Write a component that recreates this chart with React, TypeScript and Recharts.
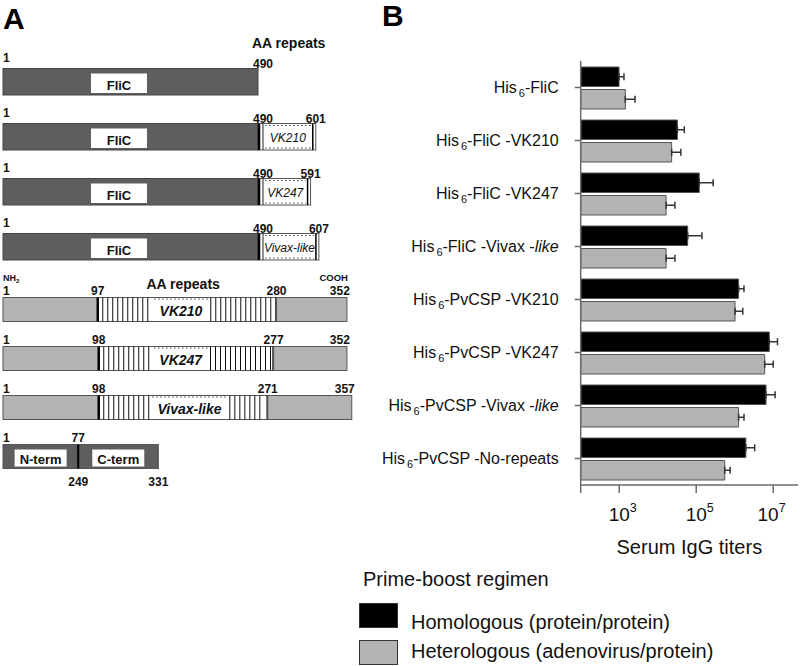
import React from 'react'
import {
  BarChart,
  Bar,
  XAxis,
  YAxis,
  ErrorBar,
  Legend,
} from 'recharts'

// ---- Panel A: FliC fusions (amino-acid positions) ----
const fliCNames = ['FliC', 'FliC-VK210', 'FliC-VK247', 'FliC-Vivax-like']
const fliCEnd = [490, 490, 490, 490]
const fliCRepeatEnd = [490, 601, 591, 607]
const fliCRepeatName = ['', 'VK210', 'VK247', 'Vivax-like']

// ---- Panel A: PvCSP constructs ----
const pvNames = ['PvCSP-VK210', 'PvCSP-VK247', 'PvCSP-Vivax-like', 'PvCSP-No-repeats']
const pvRepeatStart = [97, 98, 98, 77]
const pvRepeatEnd = [280, 277, 271, 249]
const pvEnd = [352, 352, 357, 331]
const pvRepeatName = ['VK210', 'VK247', 'Vivax-like', '']

// ---- Panel B: serum IgG titers ----
const constructs = [
  'His6-FliC',
  'His6-FliC-VK210',
  'His6-FliC-VK247',
  'His6-FliC-Vivax-like',
  'His6-PvCSP-VK210',
  'His6-PvCSP-VK247',
  'His6-PvCSP-Vivax-like',
  'His6-PvCSP-No-repeats',
]
const constructText = [
  '-FliC',
  '-FliC -VK210',
  '-FliC -VK247',
  '-FliC -Vivax -',
  '-PvCSP -VK210',
  '-PvCSP -VK247',
  '-PvCSP -Vivax -',
  '-PvCSP -No-repeats',
]
const constructItalic = ['', '', '', 'like', '', '', 'like', '']
const regimens = ['Homologous (protein/protein)', 'Heterologous (adenovirus/protein)']
const homologous = [990, 32400, 120000, 60000, 1.26e6, 7.9e6, 6.5e6, 1.95e6]
const homologousUpper = [1330, 49000, 275000, 141000, 1.74e6, 1.29e7, 1.12e7, 3.3e6]
const heterologous = [1440, 23000, 16500, 16500, 1.02e6, 6.0e6, 1.26e6, 5.5e5]
const heterologousUpper = [2570, 40000, 28000, 28000, 1.62e6, 1.0e7, 1.74e6, 7.6e5]
const titerTicks = [1e2, 1e3, 1e4, 1e5, 1e6, 1e7]

const FONT = '"Liberation Sans", Arial, Helvetica, sans-serif'
const DARK = '#5e5e5e'
const LIGHT = '#b3b3b3'
const INK = '#111'

const fliCData = fliCNames.map((name, i) => ({
  name,
  idx: i,
  fliC: fliCEnd[i],
  rep: fliCRepeatEnd[i] - fliCEnd[i],
  endLabel: fliCRepeatEnd[i] > fliCEnd[i] ? String(fliCRepeatEnd[i]) : '',
  fliCLabel: String(fliCEnd[i]),
  repName: fliCRepeatName[i],
}))

const pvData = pvNames.map((name, i) => {
  const hasRep = pvRepeatName[i] !== ''
  return {
    name,
    idx: i,
    hasRep,
    n: pvRepeatStart[i],
    rep: hasRep ? pvRepeatEnd[i] - pvRepeatStart[i] : 0,
    c: pvEnd[i] - pvRepeatEnd[i],
    startLabel: String(pvRepeatStart[i]),
    repEndLabel: String(pvRepeatEnd[i]),
    endLabel: String(pvEnd[i]),
    repName: pvRepeatName[i],
  }
})

const titerData = constructs.map((name, i) => ({
  name,
  homologous: homologous[i],
  heterologous: heterologous[i],
  homoErr: [0, homologousUpper[i] - homologous[i]],
  heteroErr: [0, heterologousUpper[i] - heterologous[i]],
}))

// rough text width for Arial-like fonts
function textWidth(s: string, size: number) {
  let w = 0
  for (const ch of s) {
    if ('il-.tI'.includes(ch)) w += 0.28
    else if (ch >= 'A' && ch <= 'Z') w += 0.72
    else w += 0.556
  }
  return w * size
}

const numStyle = { fontSize: 12, fontWeight: 700, fill: INK } as const

function FliCShape(props: any) {
  const { x, y, width, height, payload } = props
  if (!width || width <= 0) return <g />
  const boxX = x + width * 0.345
  return (
    <g>
      <rect x={x} y={y} width={width} height={height} fill={DARK} stroke="#444" strokeWidth={1} />
      <rect x={boxX} y={y + 5} width={56} height={height - 7} fill="#fff" />
      <text x={boxX + 28} y={y + height - 5} textAnchor="middle" fontSize={13} fontWeight={700} fill={INK}>
        FliC
      </text>
      <text x={x} y={y - 7} {...numStyle}>1</text>
      <text x={x + width - 5} y={y - 1} {...numStyle}>{payload.fliCLabel}</text>
      {payload.idx === 0 && (
        <text x={x + width - 6} y={y - 21} fontSize={14} fontWeight={700} fill={INK}>AA repeats</text>
      )}
    </g>
  )
}

function FliCRepeatShape(props: any) {
  const { x, y, width, height, payload } = props
  if (!width || width <= 0) return <g />
  const left = x + 7
  const right = x + width - 5
  return (
    <g>
      <rect x={x} y={y} width={width} height={height} fill="#fff" stroke="#555" strokeWidth={1} />
      <line x1={x + 1} x2={x + 1} y1={y} y2={y + height} stroke="#000" strokeWidth={2.5} />
      <line x1={x + 5} x2={x + 5} y1={y} y2={y + height} stroke="#222" strokeWidth={1} />
      <line x1={left} x2={right} y1={y + 2} y2={y + 2} stroke="#444" strokeWidth={1} strokeDasharray="1.5 2.5" />
      <line x1={left} x2={right} y1={y + height - 2} y2={y + height - 2} stroke="#444" strokeWidth={1} strokeDasharray="1.5 2.5" />
      <line x1={x + width - 3} x2={x + width - 3} y1={y} y2={y + height} stroke="#000" strokeWidth={1.5} />
      <text x={(left + right) / 2} y={y + height - 8} textAnchor="middle" fontSize={12} fontStyle="italic" fill={INK}>
        {payload.repName}
      </text>
      <text x={x + width} y={y - 1} textAnchor="middle" {...numStyle}>{payload.endLabel}</text>
    </g>
  )
}

function PvNShape(props: any) {
  const { x, y, width, height, payload } = props
  if (!width || width <= 0) return <g />
  const fill = payload.hasRep ? LIGHT : DARK
  return (
    <g>
      <rect x={x} y={y} width={width} height={height} fill={fill} stroke="#555" strokeWidth={1} />
      {!payload.hasRep && (
        <>
          <rect x={x + width / 2 - 26} y={y + 5} width={52} height={height - 7} fill="#fff" />
          <text x={x + width / 2} y={y + height - 5} textAnchor="middle" fontSize={13} fontWeight={700} fill={INK}>N-term</text>
        </>
      )}
      <text x={x} y={y - 3} {...numStyle}>1</text>
      <text x={x + width} y={y - 3} textAnchor="middle" {...numStyle}>{payload.startLabel}</text>
      {payload.idx === 0 && (
        <text x={x} y={y - 17} fontSize={9} fontWeight={700} fill={INK}>
          NH<tspan fontSize={6} dy={2}>2</tspan>
        </text>
      )}
    </g>
  )
}

function PvRepeatShape(props: any) {
  const { x, y, width, height, payload } = props
  if (!width || width <= 0) return <g />
  const boxW = textWidth(payload.repName, 14) + 10
  const boxX = x + width * 0.316
  const lines: number[] = []
  for (let lx = x + 5; lx < boxX - 2; lx += 5) lines.push(lx)
  for (let lx = boxX + boxW + 3; lx < x + width - 3; lx += 5) lines.push(lx)
  return (
    <g>
      <rect x={x} y={y} width={width} height={height} fill="#fff" stroke="#555" strokeWidth={1} />
      {lines.map((lx) => (
        <line key={lx} x1={lx} x2={lx} y1={y} y2={y + height} stroke="#111" strokeWidth={1} />
      ))}
      <line x1={x} x2={x} y1={y} y2={y + height} stroke="#000" strokeWidth={2.5} />
      <line x1={x + width} x2={x + width} y1={y} y2={y + height} stroke="#000" strokeWidth={2.5} />
      <line x1={boxX} x2={boxX + boxW} y1={y + 1.5} y2={y + 1.5} stroke="#444" strokeDasharray="1.5 2.5" />
      <text x={boxX + boxW / 2} y={y + height - 6} textAnchor="middle" fontSize={14} fontWeight={700} fontStyle="italic" fill={INK}>
        {payload.repName}
      </text>
      <text x={x + width} y={y - 3} textAnchor="middle" {...numStyle}>{payload.repEndLabel}</text>
      {payload.idx === 0 && (
        <text x={x + width / 2 - 4} y={y - 9} textAnchor="middle" fontSize={14} fontWeight={700} fill={INK}>AA repeats</text>
      )}
    </g>
  )
}

function PvCShape(props: any) {
  const { x, y, width, height, payload } = props
  if (!width || width <= 0) return <g />
  const fill = payload.hasRep ? LIGHT : DARK
  return (
    <g>
      <rect x={x} y={y} width={width} height={height} fill={fill} stroke="#555" strokeWidth={1} />
      {payload.hasRep ? (
        <text x={x + width + 3} y={y - 3} textAnchor="end" {...numStyle}>{payload.endLabel}</text>
      ) : (
        <>
          <line x1={x} x2={x} y1={y} y2={y + height} stroke="#000" strokeWidth={2} />
          <rect x={x + width / 2 - 26} y={y + 5} width={52} height={height - 7} fill="#fff" />
          <text x={x + width / 2} y={y + height - 5} textAnchor="middle" fontSize={13} fontWeight={700} fill={INK}>C-term</text>
          <text x={x} y={y + height + 17} textAnchor="middle" {...numStyle}>{payload.repEndLabel}</text>
          <text x={x + width} y={y + height + 17} textAnchor="middle" {...numStyle}>{payload.endLabel}</text>
        </>
      )}
      {payload.idx === 0 && (
        <text x={x + width + 1} y={y - 17} textAnchor="end" fontSize={9.5} fontWeight={700} fill={INK}>COOH</text>
      )}
    </g>
  )
}

function ConstructTick(props: any) {
  const { x, y, payload } = props
  const i = constructs.indexOf(payload.value)
  return (
    <text x={x - 14} y={y + 5.5} textAnchor="end" fontSize={16} fill={INK}>
      His
      <tspan dx={2} dy={4} fontSize={11}>6</tspan>
      <tspan dy={-4}>{constructText[i]}</tspan>
      {constructItalic[i] && <tspan fontStyle="italic">{constructItalic[i]}</tspan>}
    </text>
  )
}

function PowerTick(props: any) {
  const { x, y, payload } = props
  const exp = Math.round(Math.log10(payload.value))
  if (exp % 2 === 0) return <g />
  return (
    <text x={x - 10.5} y={y + 26} fontSize={19} fill={INK}>
      10<tspan fontSize={12.5} dy={-9}>{exp}</tspan>
    </text>
  )
}

function RegimenLegend({ payload }: any) {
  const boxTop = [35, 72]
  const textTop = [43, 72]
  const items = [...(payload || [])].sort(
    (a: any, b: any) => regimens.indexOf(a.value) - regimens.indexOf(b.value),
  )
  return (
    <div style={{ position: 'relative', width: 330, height: 100, fontSize: 20, color: INK, fontFamily: FONT }}>
      <div style={{ position: 'absolute', left: 4, top: 0, whiteSpace: 'nowrap' }}>Prime-boost regimen</div>
      {items.map((entry: any, i: number) => (
        <React.Fragment key={entry.value}>
          <div
            style={{
              position: 'absolute',
              left: 0,
              top: boxTop[i],
              width: 39,
              height: 25,
              boxSizing: 'border-box',
              background: entry.color,
              border: '1.5px solid #333',
            }}
          />
          <div style={{ position: 'absolute', left: 52, top: textTop[i], whiteSpace: 'nowrap' }}>{entry.value}</div>
        </React.Fragment>
      ))}
    </div>
  )
}

export default function App() {
  return (
    <div style={{ position: 'absolute', left: 0, top: 0, width: 800, height: 666, background: '#fff', fontFamily: FONT, overflow: 'hidden' }}>
      <div style={{ position: 'absolute', left: 3, top: 4, fontSize: 30, fontWeight: 700, lineHeight: 1, color: '#000' }}>A</div>
      <div style={{ position: 'absolute', left: 382, top: 1, fontSize: 30, fontWeight: 700, lineHeight: 1, color: '#000' }}>B</div>

      {/* Panel A – FliC constructs */}
      <div style={{ position: 'absolute', left: 0, top: 0 }}>
        <BarChart
          width={360}
          height={300}
          data={fliCData}
          layout="vertical"
          margin={{ top: 54.5, right: 18.73, bottom: 25.5, left: 3 }}
          barSize={26.5}
        >
          <XAxis type="number" domain={[0, 650]} hide />
          <YAxis type="category" dataKey="name" hide />
          <Bar dataKey="fliC" stackId="a" shape={FliCShape} isAnimationActive={false} />
          <Bar dataKey="rep" stackId="a" shape={FliCRepeatShape} isAnimationActive={false} />
        </BarChart>
      </div>

      {/* Panel A – PvCSP constructs */}
      <div style={{ position: 'absolute', left: 0, top: 0 }}>
        <BarChart
          width={370}
          height={520}
          data={pvData}
          layout="vertical"
          margin={{ top: 284.5, right: 15.3, bottom: 39.5, left: 3 }}
          barSize={24}
        >
          <XAxis type="number" domain={[0, 360]} hide />
          <YAxis type="category" dataKey="name" hide />
          <Bar dataKey="n" stackId="p" shape={PvNShape} isAnimationActive={false} />
          <Bar dataKey="rep" stackId="p" shape={PvRepeatShape} isAnimationActive={false} />
          <Bar dataKey="c" stackId="p" shape={PvCShape} isAnimationActive={false} />
        </BarChart>
      </div>

      {/* Panel B – serum IgG titers */}
      <div style={{ position: 'absolute', left: 360, top: 0 }}>
        <BarChart
          width={440}
          height={666}
          data={titerData}
          layout="vertical"
          margin={{ top: 61, right: 2, bottom: 126, left: 0 }}
          barSize={19.5}
          barGap={3}
        >
          <XAxis
            type="number"
            scale="log"
            domain={[100, 4.4e7]}
            ticks={titerTicks}
            allowDataOverflow
            tick={<PowerTick />}
            tickSize={8}
            height={55}
            stroke="#6a6a6a"
            strokeWidth={1.5}
            label={{ value: 'Serum IgG titers', position: 'bottom', offset: 0, fontSize: 20, fill: INK }}
          />
          <YAxis
            type="category"
            dataKey="name"
            width={220.7}
            tick={<ConstructTick />}
            tickSize={6}
            stroke="#6a6a6a"
            strokeWidth={1.5}
            interval={0}
          />
          <Legend
            layout="horizontal"
            verticalAlign="middle"
            align="center"
            content={<RegimenLegend />}
            wrapperStyle={{ left: -1, top: 568, width: 340, height: 100 }}
          />
          <Bar dataKey="homologous" name={regimens[0]} fill="#000" stroke="#555" strokeWidth={1} isAnimationActive={false}>
            <ErrorBar dataKey="homoErr" direction="x" width={3.5} stroke="#333" strokeWidth={1.5} />
          </Bar>
          <Bar dataKey="heterologous" name={regimens[1]} fill={LIGHT} stroke="#555" strokeWidth={1} isAnimationActive={false}>
            <ErrorBar dataKey="heteroErr" direction="x" width={3.5} stroke="#333" strokeWidth={1.5} />
          </Bar>
        </BarChart>
      </div>
    </div>
  )
}
